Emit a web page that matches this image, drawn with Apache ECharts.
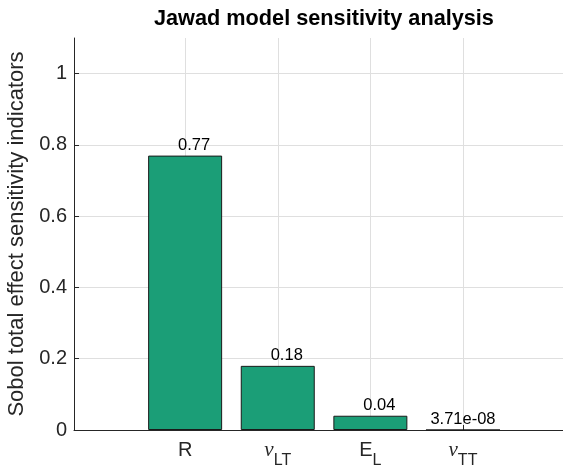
<!DOCTYPE html>
<html>
<head>
<meta charset="utf-8">
<script src="https://cdn.jsdelivr.net/npm/echarts@6/dist/echarts.min.js"></script>
<style>
html,body{margin:0;padding:0;background:#fff;}
#chart{width:563px;height:472px;}
</style>
</head>
<body>
<div id="chart"></div>
<script>
// ---- data ----
var categoryNames = ['R', 'νLT', 'EL', 'νTT'];
var categoryPositions = [1, 2, 3, 4];
var sobolValues = [0.77, 0.18, 0.04, 3.71e-08];
var valueLabels = ['0.77', '0.18', '0.04', '3.71e-08'];
var yTickValues = [0, 0.2, 0.4, 0.6, 0.8, 1];
var yTickLabels = ['0', '0.2', '0.4', '0.6', '0.8', '1'];

// ---- rendering ----
var SANS = "'Liberation Sans', Arial, Helvetica, sans-serif";
var SERIF = "'Liberation Serif', 'Times New Roman', serif";
var TXT = '#262626';

// rich-text forms of the category labels (greek symbol + subscript)
function richCategory(name) {
  if (name === 'R') return '{m|R}';
  if (name === 'νLT') return '{g|ν}{s|LT}';
  if (name === 'EL') return '{m|E}{s|L}';
  if (name === 'νTT') return '{g|ν}{s|TT}';
  return '{m|' + name + '}';
}

var labelOffsets = [[9, 0], [9, 0], [9, 0], [0, 0]];

var barData = sobolValues.map(function (v, i) {
  return {
    value: [categoryPositions[i], v],
    label: { offset: labelOffsets[i] }
  };
});

var chart = echarts.init(document.getElementById('chart'), null, { renderer: 'canvas' });
chart.setOption({
  animation: false,
  backgroundColor: '#ffffff',
  title: {
    text: 'Jawad model sensitivity analysis',
    left: 154,
    top: 8,
    padding: 0,
    textStyle: { fontFamily: SANS, fontSize: 21.7, fontWeight: 'bold', color: '#000000' }
  },
  grid: { left: 74, right: 0, top: 38, bottom: 42, containLabel: false, outerBoundsMode: 'none' },
  xAxis: {
    type: 'value',
    min: -0.2,
    max: 5.08,
    axisLine: { show: true, onZero: false, lineStyle: { color: TXT, width: 1 } },
    axisTick: { show: true, inside: true, length: 5, customValues: categoryPositions, lineStyle: { color: TXT } },
    splitLine: { show: true, lineStyle: { color: '#dfdfdf', width: 1 } },
    axisLabel: {
      customValues: categoryPositions,
      margin: 10,
      formatter: function (v) {
        var idx = categoryPositions.indexOf(v);
        return idx >= 0 ? richCategory(categoryNames[idx]) : '';
      },
      rich: {
        m: { fontFamily: SANS, fontSize: 20, lineHeight: 20, color: TXT, verticalAlign: 'top' },
        g: { fontFamily: SERIF, fontStyle: 'italic', fontSize: 21, lineHeight: 20, color: TXT, verticalAlign: 'top' },
        s: { fontFamily: SANS, fontSize: 16, lineHeight: 16, color: TXT, verticalAlign: 'top', padding: [13, 0, 0, 0] }
      }
    }
  },
  yAxis: {
    type: 'value',
    min: 0,
    max: 1.1,
    name: 'Sobol total effect sensitivity indicators',
    nameLocation: 'middle',
    nameGap: 30,
    nameTextStyle: { fontFamily: SANS, fontSize: 22, color: TXT },
    axisLine: { show: true, onZero: false, lineStyle: { color: TXT, width: 1 } },
    axisTick: { show: true, inside: true, length: 5, customValues: yTickValues, lineStyle: { color: TXT } },
    splitLine: { show: true, lineStyle: { color: '#dfdfdf', width: 1 } },
    axisLabel: {
      customValues: yTickValues,
      margin: 7,
      fontFamily: SANS,
      fontSize: 20,
      color: TXT,
      formatter: function (v) {
        var idx = yTickValues.indexOf(v);
        return idx >= 0 ? yTickLabels[idx] : '';
      }
    }
  },
  series: [{
    type: 'bar',
    data: barData,
    barWidth: 74,
    itemStyle: { color: '#1b9e77', borderColor: '#1a1a1a', borderWidth: 1 },
    label: {
      show: true,
      position: 'top',
      distance: 2,
      fontFamily: SANS,
      fontSize: 16.5,
      color: '#000000',
      formatter: function (p) { return valueLabels[p.dataIndex]; }
    }
  }]
});
</script>
</body>
</html>
